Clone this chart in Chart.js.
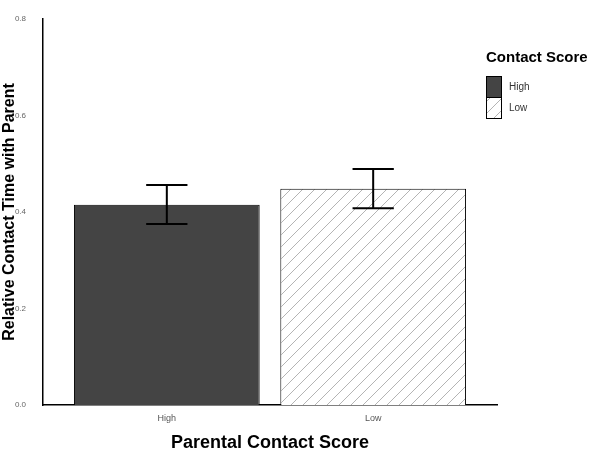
<!DOCTYPE html>
<html>
<head>
<meta charset="utf-8">
<script src="https://cdn.jsdelivr.net/npm/chart.js@4"></script>
<style>
  html, body { margin: 0; padding: 0; background: #fff; }
  #wrap { width: 600px; height: 454px; }
</style>
</head>
<body>
<div id="wrap"><canvas id="chart" width="600" height="454"></canvas></div>
<script>
// values
const categories = ['High', 'Low'];
const means = [0.415, 0.448];
const errLower = [0.375, 0.408];
const errUpper = [0.456, 0.489];
const yTicks = [0, 0.2, 0.4, 0.6, 0.8];
const legendTitle = 'Contact Score';

function makeHatch() {
    const s = 12;
    const c = document.createElement('canvas');
    c.width = s; c.height = s;
    const g = c.getContext('2d');
    g.fillStyle = '#ffffff';
    g.fillRect(0, 0, s, s);
    g.strokeStyle = '#b4b4b4';
    g.lineWidth = 1;
    g.beginPath();
    g.moveTo(0, s); g.lineTo(s, 0);
    g.moveTo(-s / 2, s / 2); g.lineTo(s / 2, -s / 2);
    g.moveTo(s / 2, s * 1.5); g.lineTo(s * 1.5, s / 2);
    g.stroke();
    return g.createPattern(c, 'repeat');
}

const ctx = document.getElementById('chart').getContext('2d');
const hatch = makeHatch();
const fills = ['#444444', hatch];

// error bars drawn on top of the bars
const errorBars = {
    id: 'errorBars',
    afterDatasetsDraw(chart) {
        const { ctx, scales: { x, y } } = chart;
        ctx.save();
        ctx.strokeStyle = '#000';
        ctx.lineWidth = 2;
        categories.forEach((c, i) => {
            const cx = x.getPixelForValue(i + 1);
            const half = (x.getPixelForValue(1.1) - x.getPixelForValue(1));
            const top = y.getPixelForValue(errUpper[i]);
            const bot = y.getPixelForValue(errLower[i]);
            ctx.beginPath();
            ctx.moveTo(cx, top); ctx.lineTo(cx, bot);
            ctx.moveTo(cx - half, top); ctx.lineTo(cx + half, top);
            ctx.moveTo(cx - half, bot); ctx.lineTo(cx + half, bot);
            ctx.stroke();
        });
        ctx.restore();
    }
};

// ggplot style legend at the right
const sideLegend = {
    id: 'sideLegend',
    afterDraw(chart) {
        const ctx = chart.ctx;
        const lx = 486;
        ctx.save();
        ctx.fillStyle = '#000';
        ctx.font = 'bold 15px "Liberation Sans", Arial, sans-serif';
        ctx.textBaseline = 'middle';
        ctx.textAlign = 'left';
        ctx.fillText(legendTitle, lx, 58);
        const boxW = 15, boxH = 21;
        let by = 76;
        categories.forEach((c, i) => {
            ctx.fillStyle = fills[i];
            ctx.fillRect(lx, by, boxW, boxH);
            ctx.strokeStyle = '#000';
            ctx.lineWidth = 1;
            ctx.strokeRect(lx + 0.5, by + 0.5, boxW, boxH);
            ctx.fillStyle = '#333';
            ctx.font = '10px "Liberation Sans", Arial, sans-serif';
            ctx.fillText(c, lx + boxW + 8, by + boxH / 2 + 1);
            by += boxH;
        });
        ctx.restore();
    }
};

new Chart(ctx, {
    type: 'bar',
    data: {
        datasets: [{
            data: categories.map((c, i) => ({ x: i + 1, y: means[i] })),
            backgroundColor: fills,
            borderColor: '#000',
            borderWidth: 1,
            barPercentage: 0.9,
            categoryPercentage: 1
        }]
    },
    options: {
        responsive: false,
        animation: false,
        layout: { padding: { top: 19, right: 103, left: 0, bottom: 0 } },
        plugins: {
            legend: { display: false },
            tooltip: { enabled: false }
        },
        scales: {
            x: {
                type: 'linear',
                offset: false,
                min: 0.4,
                max: 2.6,
                afterBuildTicks: (scale) => {
                    scale.ticks = categories.map((c, i) => ({ value: i + 1 }));
                },
                afterFit: (scale) => { scale.height = 49; },
                grid: { display: false },
                border: { display: true, color: '#000', width: 1.5 },
                ticks: {
                    autoSkip: false,
                    maxRotation: 0,
                    padding: 0,
                    color: '#555',
                    font: { size: 9, family: '"Liberation Sans", Arial, sans-serif' },
                    callback: (v) => categories[v - 1] || ''
                },
                title: {
                    display: true,
                    text: 'Parental Contact Score',
                    color: '#000',
                    padding: { top: 4, bottom: 0 },
                    font: { size: 18, weight: 'bold', family: '"Liberation Sans", Arial, sans-serif' }
                }
            },
            y: {
                min: 0,
                max: 0.8,
                afterBuildTicks: (scale) => {
                    scale.ticks = yTicks.map(v => ({ value: v }));
                },
                afterFit: (scale) => { scale.width = 43; },
                grid: { display: false },
                border: { display: true, color: '#000', width: 1.5 },
                ticks: {
                    padding: 9,
                    color: '#666',
                    font: { size: 8, family: '"Liberation Sans", Arial, sans-serif' },
                    callback: (v) => v.toFixed(1)
                },
                title: {
                    display: true,
                    text: 'Relative Contact Time with Parent',
                    color: '#000',
                    padding: { top: 0, bottom: 0 },
                    font: { size: 16, weight: 'bold', family: '"Liberation Sans", Arial, sans-serif' }
                }
            }
        }
    },
    plugins: [errorBars, sideLegend]
});
</script>
</body>
</html>
